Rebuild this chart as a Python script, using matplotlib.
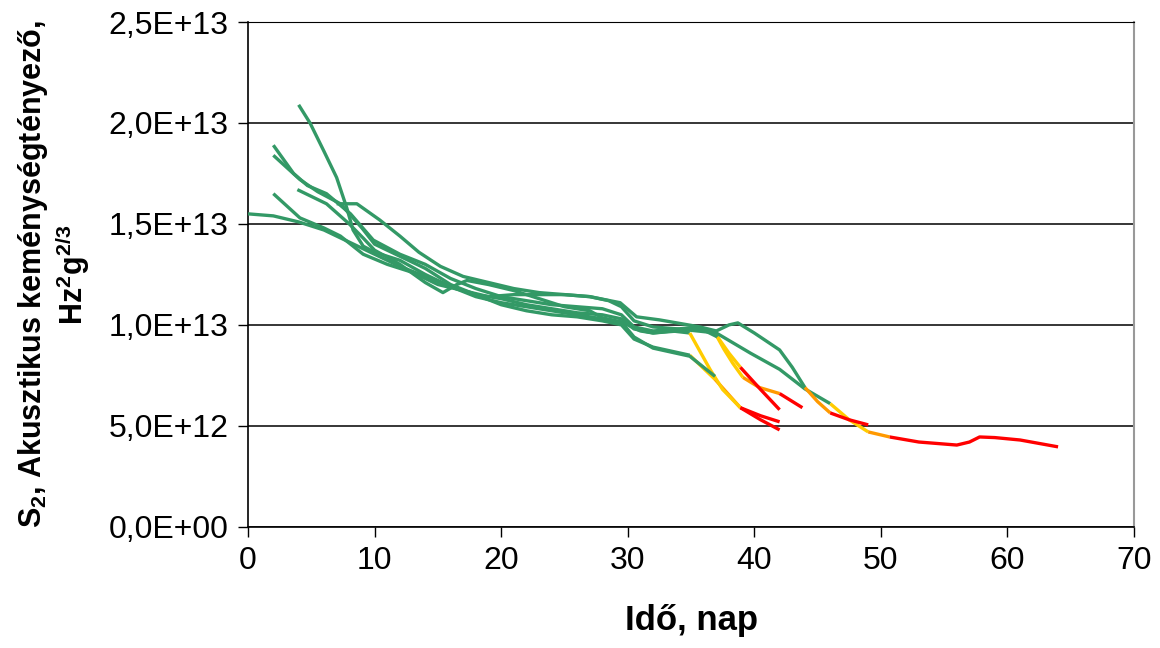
import matplotlib
matplotlib.use("Agg")
import matplotlib.pyplot as plt
from matplotlib.ticker import FuncFormatter, MultipleLocator

plt.rcParams['font.family'] = ['Liberation Sans', 'DejaVu Sans']
plt.rcParams['mathtext.fontset'] = 'custom'
plt.rcParams['mathtext.rm'] = 'Liberation Sans'
plt.rcParams['mathtext.bf'] = 'Liberation Sans:bold'

# S2 értékek 1E+12 egységben, idő napban
a_x = [0, 2, 4, 6, 8, 10, 12, 14, 16, 18, 20, 22, 24, 26, 28, 29.5, 30.5, 32, 34.9,
       35.9, 36.9, 37.9, 38.9, 40.5, 42]
a_y = [15.5, 15.4, 15.1, 14.7, 14.1, 13.5, 12.9, 12.4, 11.9, 11.5, 11.0, 10.7, 10.5, 10.4, 10.2, 10.0, 9.3, 8.9, 8.5,
       7.9, 7.3, 6.6, 5.9, 5.3, 4.8]
a_stages = [(34.9, 'sarga'), (36.9, 'narancs'), (38.9, 'piros')]

b_x = [4, 4.9, 6, 7, 7.8, 8.3, 9.1, 10, 12, 14, 16, 18, 20, 22, 24, 26, 28, 30, 31, 32, 34, 35.5, 36.9,
       37.6, 38.3, 39.1, 40.4, 42, 43.8]
b_y = [20.9, 20.0, 18.6, 17.3, 15.8, 14.7, 13.9, 13.6, 13.2, 12.5, 11.9, 11.4, 11.1, 10.9, 10.7, 10.5, 10.3, 10.0, 9.7,
       9.6, 9.7, 9.8, 9.6, 8.8, 8.1, 7.4, 6.9, 6.6, 5.9]
b_stages = [(36.9, 'sarga'), (39.1, 'narancs'), (42, 'piros')]

c_x = [2, 3.6, 4.7, 6.2, 8.1, 9.9, 12, 14, 16, 18, 20, 22, 24, 26, 28, 29.5, 30.5, 32, 34, 35.5, 37.1,
       38, 38.9, 40.5, 42]
c_y = [18.9, 17.5, 16.9, 16.5, 15.5, 14.2, 13.5, 13.0, 12.3, 11.8, 11.4, 11.2, 11.0, 10.9, 10.8, 10.5, 9.9, 9.7,
       9.8, 9.9, 9.4, 8.6, 7.9, 6.8, 5.8]
c_stages = [(37.1, 'sarga'), (38.9, 'piros')]

d_x = [2, 4.1, 5.5, 7.3, 9, 10, 12, 14, 16, 18, 20, 22, 24, 26, 28, 29.5, 30.5, 32, 33.5, 34.9,
       35.7, 36.5, 37.5, 38.9, 40.5, 42]
d_y = [18.4, 17.2, 16.6, 16.0, 14.8, 14.0, 13.4, 12.8, 12.0, 11.5, 11.3, 11.0, 10.8, 10.6, 10.5, 10.3, 9.8, 9.6,
       9.7, 9.6, 8.7, 7.8, 6.8, 5.9, 5.5, 5.2]
d_stages = [(34.9, 'sarga'), (38.9, 'piros')]

e_x = [2, 4.1, 6, 7.3, 9.1, 11, 13, 15, 17, 19, 21, 23, 25, 27, 28.5, 29.5, 30.5, 32, 34, 35.5, 37, 39.7,
       42, 44, 46, 47.5, 49, 50.7, 53, 56, 57, 57.8, 59, 61, 64]
e_y = [16.5, 15.3, 14.8, 14.4, 13.5, 13.0, 12.6, 12.0, 11.7, 11.4, 11.5, 11.5, 11.5, 11.4, 11.2, 10.9, 10.2, 9.9,
       9.8, 9.7, 9.6, 8.6, 7.8, 6.83, 6.1, 5.3, 4.7, 4.45, 4.2, 4.05, 4.2, 4.45, 4.42, 4.3, 3.96]
e_stages = [(46, 'sarga'), (49, 'narancs'), (50.7, 'piros')]

f_x = [3.9, 6.2, 8, 9.1, 10, 12, 14, 15.4, 16.5, 17.3, 19, 21, 23, 25, 27, 28, 29.5, 30.5, 32, 34.9, 36.9]
f_y = [16.7, 16.0, 15.0, 14.3, 13.7, 13.0, 12.1, 11.6, 12.0, 12.2, 12.0, 11.7, 11.3, 10.9, 10.7, 10.35, 10.15, 9.4,
       8.85, 8.45, 7.45]
f_stages = []

h_x = [7, 8.6, 10.4, 12, 13.5, 15.2, 17, 19, 21, 23, 25, 27, 29.4, 30.7, 32.5, 35.7, 37, 38, 38.7, 40, 42, 43, 44,
       45, 46, 47.5, 49]
h_y = [16.0, 16.0, 15.2, 14.4, 13.6, 12.9, 12.4, 12.1, 11.8, 11.6, 11.5, 11.4, 11.1, 10.4, 10.25, 9.9, 9.7, 10.0,
       10.1, 9.6, 8.76, 7.9, 6.9, 6.2, 5.64, 5.3, 5.05]
h_stages = [(44, 'narancs'), (46, 'piros')]

colors = {'zold': '#339966', 'sarga': '#FFCC00', 'narancs': '#FF9900', 'piros': '#FF0000'}

curves = [(a_x, a_y, a_stages), (b_x, b_y, b_stages), (c_x, c_y, c_stages), (d_x, d_y, d_stages),
          (e_x, e_y, e_stages), (f_x, f_y, f_stages), (h_x, h_y, h_stages)]

fig = plt.figure(figsize=(11.6, 6.48), dpi=100)
ax = fig.add_axes([0.2138, 0.187, 0.7638, 0.779])

for xs, ys, stages in curves:
    # szakaszok: zöld, majd a színváltások helyein új szín
    bounds = [xs[0]] + [s[0] for s in stages] + [xs[-1]]
    names = ['zold'] + [s[1] for s in stages]
    for k, name in enumerate(names):
        lo, hi = bounds[k], bounds[k + 1]
        px = [x for x in xs if lo <= x <= hi]
        py = [y * 1e12 for x, y in zip(xs, ys) if lo <= x <= hi]
        ax.plot(px, py, color=colors[name], lw=2.4, solid_capstyle='butt',
                solid_joinstyle='round', zorder=3)

ax.set_xlim(0, 70)
ax.set_ylim(0, 2.5e13)
ax.xaxis.set_major_locator(MultipleLocator(10))
ax.yaxis.set_major_locator(MultipleLocator(5e12))


def sci_fmt(v, pos):
    if v == 0:
        return '0,0E+00'
    s = '%.1E' % v
    m, e = s.split('E')
    return m.replace('.', ',') + 'E+' + '%02d' % int(e)


ax.yaxis.set_major_formatter(FuncFormatter(sci_fmt))
ax.grid(axis='y', color='black', lw=1.1, zorder=1)
ax.tick_params(axis='both', direction='out', length=7, width=1, labelsize=23, pad=7, colors='black')
for s in ['left', 'bottom']:
    ax.spines[s].set_color('black')
    ax.spines[s].set_linewidth(1.2)
ax.spines['top'].set_color('black')
ax.spines['right'].set_color('#999999')
ax.spines['right'].set_linewidth(1.5)

ax.set_xlabel('Idő, nap', fontsize=25, fontweight='bold', labelpad=20)
ax.set_ylabel('S$_\\mathbf{2}$, Akusztikus keménységtényező,\nHz$^\\mathbf{2}$g$^\\mathbf{2/3}$',
              fontsize=22, fontweight='bold', labelpad=12, linespacing=1.1)

fig.savefig('out.png', dpi=100)
